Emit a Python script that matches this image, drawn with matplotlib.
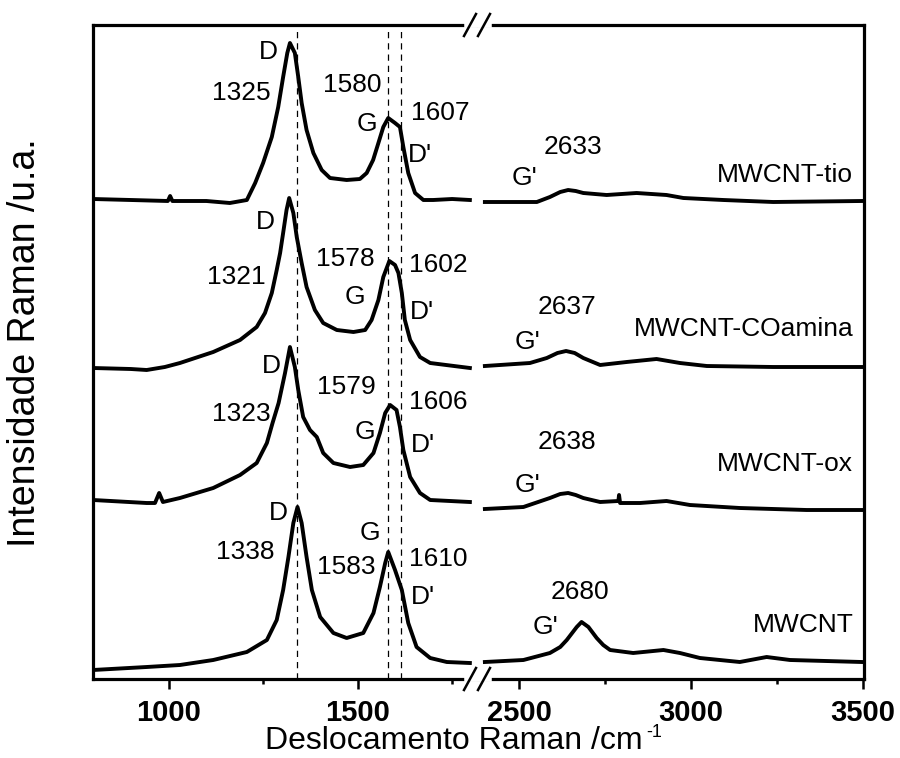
import numpy as np
import matplotlib
matplotlib.use("Agg")
import matplotlib.pyplot as plt
from matplotlib.lines import Line2D

plt.rcParams['font.family'] = ['Liberation Sans', 'DejaVu Sans']

# spectra (wavenumber /cm-1, intensity a.u. incl. offset)
tio_x = [800, 900, 998, 1004, 1010, 1100, 1162, 1207, 1229, 1250, 1273, 1290, 1303, 1314, 1321,
         1334, 1343, 1352, 1365, 1383, 1405, 1427, 1471, 1506, 1524, 1541, 1555, 1568, 1581,
         1599, 1612, 1621, 1634, 1652, 1674, 1700, 1750, 1797,
         2401, 2464, 2552, 2590, 2620, 2643, 2665, 2687, 2755, 2842, 2929, 2978, 3094, 3239, 3496]
tio_y = [480, 479, 478, 483, 478, 478, 476, 479, 496, 516, 542, 572, 602, 626, 636,
         626, 602, 576, 549, 526, 509, 501, 499, 500, 506, 519, 536, 552, 561,
         556, 552, 532, 506, 486, 479, 479, 480, 479,
         477, 477, 477, 482, 487, 489, 488, 486, 484, 486, 484, 481, 479, 477, 478]

coa_x = [800, 900, 942, 990, 1030, 1118, 1189, 1233, 1255, 1273, 1286, 1295, 1303, 1312, 1319, 1330,
         1339, 1352, 1365, 1387, 1409, 1445, 1489, 1520, 1537, 1555, 1568, 1584, 1599, 1608,
         1617, 1625, 1639, 1665, 1692, 1797,
         2401, 2532, 2581, 2612, 2637, 2662, 2687, 2736, 2813, 2900, 2968, 3046, 3239, 3496]
coa_y = [311, 310, 309, 312, 316, 327, 339, 352, 366, 386, 409, 426, 446, 469, 481, 466,
         442, 416, 392, 369, 356, 349, 347, 349, 359, 379, 402, 418, 414, 406,
         386, 359, 339, 322, 316, 311,
         313, 316, 321, 326, 328, 326, 321, 314, 317, 320, 316, 313, 312, 312]

ox_x = [800, 942, 964, 975, 985, 1030, 1118, 1189, 1233, 1260, 1275, 1291, 1308, 1321, 1334,
        1343, 1356, 1374, 1392, 1409, 1436, 1480, 1515, 1542, 1559, 1573, 1586, 1603, 1612,
        1621, 1639, 1665, 1692, 1797,
        2401, 2513, 2590, 2620, 2643, 2665, 2687, 2736, 2789, 2791, 2794, 2852, 2929, 2997,
        3142, 3336, 3496]
ox_y = [179, 176, 176, 186, 177, 181, 191, 204, 216, 236, 256, 276, 306, 332, 312,
        289, 262, 249, 242, 226, 216, 212, 214, 226, 246, 266, 274, 269, 252,
        229, 202, 186, 179, 177,
        170, 172, 181, 185, 186, 184, 181, 177, 178, 184, 176, 176, 178, 174,
        171, 169, 169]

mw_x = [800, 942, 1030, 1118, 1207, 1260, 1286, 1303, 1317, 1330, 1341, 1352, 1365, 1379,
        1401, 1436, 1471, 1515, 1542, 1559, 1573, 1581, 1599, 1617, 1634, 1656, 1692, 1736, 1797,
        2401, 2513, 2590, 2620, 2639, 2668, 2682, 2702, 2726, 2745, 2765, 2832, 2920, 2968,
        3026, 3142, 3220, 3288, 3496]
mw_y = [9, 12, 14, 19, 27, 39, 59, 89, 122, 156, 172, 156, 122, 89,
        62, 46, 41, 46, 66, 92, 116, 127, 109, 89, 56, 32, 21, 17, 16,
        17, 19, 26, 32, 39, 52, 57, 52, 41, 34, 29, 26, 29, 26,
        21, 17, 22, 19, 17]

band_lines = [1340, 1580, 1615]

# text labels: (text, wavenumber, intensity)
peak_labels = [
    ("D", 1264, 627), ("1325", 1193, 586), ("1580", 1487, 594), ("G", 1526, 555),
    ("1607", 1718, 566), ("D'", 1665, 524), ("G'", 2517, 501), ("2633", 2656, 532),
    ("D", 1255, 457), ("1321", 1180, 402), ("1578", 1467, 420), ("G", 1493, 382),
    ("1602", 1714, 414), ("D'", 1670, 367), ("G'", 2524, 337), ("2637", 2639, 372),
    ("D", 1273, 313), ("1323", 1193, 265), ("1579", 1471, 292), ("G", 1520, 247),
    ("1606", 1714, 277), ("D'", 1674, 234), ("G'", 2524, 194), ("2638", 2639, 237),
    ("D", 1290, 166), ("1338", 1204, 127), ("G", 1533, 146), ("1583", 1471, 112),
    ("1610", 1714, 120), ("D'", 1674, 82), ("G'", 2576, 52), ("2680", 2677, 87),
]
sample_names = [("MWCNT-tio", 504), ("MWCNT-COamina", 350), ("MWCNT-ox", 215), ("MWCNT", 54)]

W, H = 900, 758
fig = plt.figure(figsize=(W / 100, H / 100), dpi=100)

x0, xb, x1 = 93, 478, 864
ybot, ytop = 679, 25
axL = fig.add_axes([x0 / W, 1 - ybot / H, (xb - x0) / W, (ybot - ytop) / H])
axR = fig.add_axes([xb / W, 1 - ybot / H, (x1 - xb) / W, (ybot - ytop) / H])

axL.set_xlim(800, 1818.5)
axR.set_xlim(2381, 3503)
for ax in (axL, axR):
    ax.set_ylim(0, 654)
    ax.set_yticks([])
    for s in ax.spines.values():
        s.set_linewidth(2.3)
    ax.tick_params(axis='x', which='major', direction='out', length=7.5, width=1.8,
                   labelsize=21, pad=7)
    ax.tick_params(axis='x', which='minor', direction='out', length=3.8, width=1.8)
axL.spines['right'].set_visible(False)
axR.spines['left'].set_visible(False)

axL.set_xticks([1000, 1500])
axL.set_xticks([1250, 1750], minor=True)
axR.set_xticks([2500, 3000, 3500])
axR.set_xticks([2750, 3250], minor=True)
for ax in (axL, axR):
    for lab in ax.get_xticklabels():
        lab.set_fontweight('bold')

for xs, ys in [(tio_x, tio_y), (coa_x, coa_y), (ox_x, ox_y), (mw_x, mw_y)]:
    xs = np.array(xs)
    ys = np.array(ys)
    left = xs < 2000
    axL.plot(xs[left], ys[left], color='black', lw=2.8, solid_joinstyle='round')
    axR.plot(xs[~left], ys[~left], color='black', lw=2.8, solid_joinstyle='round')

for b in band_lines:
    axL.axvline(b, color='black', lw=0.9, ls=(0, (5, 4)))

for txt, xv, yv in peak_labels:
    ax = axL if xv < 2000 else axR
    ax.text(xv, yv, txt, fontsize=19, ha='center', va='center')
for name, yv in sample_names:
    axR.text(3472, yv, name, fontsize=19, ha='right', va='center')

# axis break marks
def px(x, y):
    return (x / W, 1 - y / H)

for yy in (ytop, ybot):
    a, b = px(467, yy), px(489, yy)
    fig.add_artist(Line2D([a[0], b[0]], [a[1], b[1]], color='white', lw=4,
                          transform=fig.transFigure))
    for cx in (470, 484):
        p, q = px(cx - 6, yy + 11), px(cx + 6, yy - 11)
        fig.add_artist(Line2D([p[0], q[0]], [p[1], q[1]], color='black', lw=1.8,
                              transform=fig.transFigure))

fig.text(643 / W, 1 - 741 / H, "Deslocamento Raman /cm", fontsize=23,
         ha='right', va='center')
fig.text(646 / W, 1 - 724 / H, "-1", fontsize=13, ha='left', va='top')
fig.text(25 / W, 1 - 343 / H, "Intensidade Raman /u.a.", fontsize=27,
         ha='center', va='center', rotation=90)

fig.savefig("out.png", dpi=100)
